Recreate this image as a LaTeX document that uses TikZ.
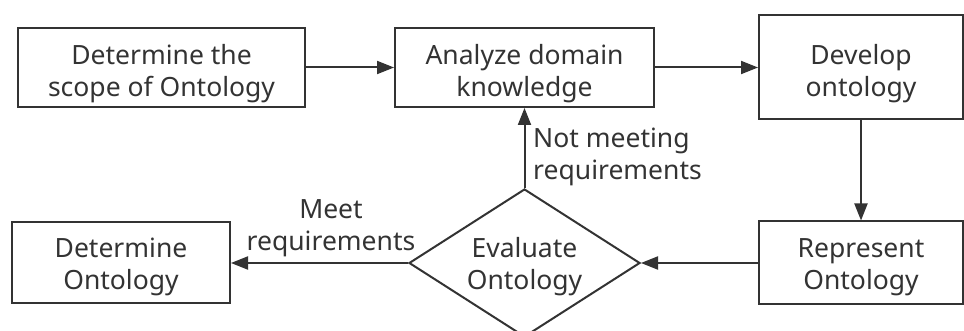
\documentclass[tikz,border=0pt]{standalone}
\usepackage{fontspec}
\setmainfont{Noto Sans}
\usetikzlibrary{arrows.meta,shapes.geometric}
\definecolor{ink}{HTML}{333333}
\begin{document}
\begin{tikzpicture}[x=1pt,y=-1pt,
  txt/.style={text=ink,font=\fontsize{26.5}{32}\selectfont},
  box/.style={txt,draw=ink,line width=2pt,rectangle,align=center,inner sep=0pt,text depth=6pt},
  dia/.style={txt,draw=ink,line width=2pt,diamond,align=center,inner sep=0pt,text depth=6pt},
  lab/.style={txt,inner sep=0pt},
  arr/.style={draw=ink,line width=2pt,-{Triangle[length=17pt,width=13pt]}}]
\clip (0,0) rectangle (964,331);
\node[box,minimum width=287pt,minimum height=79pt,text height=65pt] (scope) at (161.5,67.5) {Determine the\\scope of Ontology};
\node[box,minimum width=259pt,minimum height=79pt,text height=65pt] (analyze) at (524.5,67.5) {Analyze domain\\knowledge};
\node[box,minimum width=204pt,minimum height=104pt,text height=66pt] (develop) at (861,67) {Develop\\ontology};
\node[box,minimum width=204pt,minimum height=82pt,text height=59pt] (represent) at (861,262.5) {Represent\\Ontology};
\node[box,minimum width=218pt,minimum height=81pt,text height=59pt] (determine) at (121,262.5) {Determine\\Ontology};
\node[dia,minimum width=231pt,minimum height=148pt,aspect=1.56,text height=58pt] (eval) at (524.5,263) {Evaluate\\Ontology};
\draw[arr] (scope.east) -- (analyze.west);
\draw[arr] (analyze.east) -- (develop.west |- analyze.east);
\draw[arr] (develop.south) -- (represent.north);
\draw[arr] (represent.west |- eval.east) -- (eval.east);
\draw[arr] (eval.north) -- (analyze.south);
\draw[arr] (eval.west) -- (determine.east |- eval.west);
\node[lab,anchor=base west,align=left] (notmeet) at (533,180) {Not meeting\\requirements};
\node[lab,anchor=base,align=center] (meet) at (331,251) {Meet\\requirements};
\end{tikzpicture}
\end{document}
